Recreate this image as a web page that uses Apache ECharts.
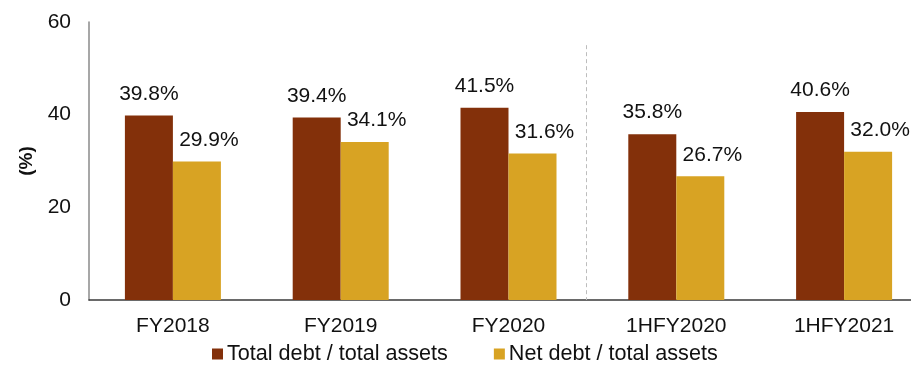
<!DOCTYPE html>
<html>
<head>
<meta charset="utf-8">
<script src="https://cdn.jsdelivr.net/npm/echarts@6/dist/echarts.min.js"></script>
<style>
  html, body { margin: 0; padding: 0; background: #fff; }
  #chart { width: 911px; height: 365px; }
</style>
</head>
<body>
<div id="chart"></div>
<script>
// Debt ratios by reporting period
const periods = ['FY2018', 'FY2019', 'FY2020', '1HFY2020', '1HFY2021'];
const totalDebtRatio = [39.8, 39.4, 41.5, 35.8, 40.6];
const netDebtRatio = [29.9, 34.1, 31.6, 26.7, 32.0];
const seriesNames = ['Total debt / total assets', 'Net debt / total assets'];
const yTicks = [0, 20, 40, 60];

const font = '"Liberation Sans", Arial, Helvetica, sans-serif';
const ink = '#111111';

const chart = echarts.init(document.getElementById('chart'), null, { renderer: 'canvas' });

const valueLabel = {
  show: true,
  position: 'top',
  distance: 11,
  fontFamily: font,
  fontSize: 21,
  color: ink,
  formatter: p => p.value.toFixed(1) + '%'
};

chart.setOption({
  animation: false,
  backgroundColor: '#ffffff',
  // plot runs slightly past the right edge of the canvas
  grid: {
    left: 89, top: 22, width: 839, bottom: 65,
    containLabel: false,
    outerBoundsMode: 'none'
  },
  legend: {
    left: 207,
    top: 341,
    padding: [0, 5, 0, 5],
    itemWidth: 11,
    itemHeight: 11,
    itemGap: 46,
    icon: 'rect',
    textStyle: { fontFamily: font, fontSize: 21.6, lineHeight: 26, color: ink, padding: [0, 0, 0, -1] },
    data: seriesNames
  },
  xAxis: {
    type: 'category',
    data: periods,
    axisLine: { lineStyle: { color: '#3a3a3a', width: 1.5 } },
    axisTick: { show: false },
    axisLabel: { fontFamily: font, fontSize: 21, color: ink, margin: 16 }
  },
  yAxis: {
    type: 'value',
    min: yTicks[0],
    max: yTicks[yTicks.length - 1],
    interval: yTicks[1] - yTicks[0],
    name: '(%)',
    nameLocation: 'middle',
    nameGap: 49,
    nameRotate: 90,
    nameTextStyle: { fontFamily: font, fontSize: 19, fontWeight: 'bold', color: ink },
    axisLine: { show: true, lineStyle: { color: '#8a8a8a', width: 1.5 } },
    axisTick: { show: false },
    splitLine: { show: false },
    axisLabel: { fontFamily: font, fontSize: 21, color: ink, margin: 18 }
  },
  series: [
    {
      name: seriesNames[0],
      type: 'bar',
      data: totalDebtRatio,
      barWidth: 48,
      barGap: '0%',
      itemStyle: { color: '#83300A' },
      label: valueLabel
    },
    {
      name: seriesNames[1],
      type: 'bar',
      data: netDebtRatio,
      barWidth: 48,
      barGap: '0%',
      itemStyle: { color: '#D8A323' },
      label: Object.assign({}, valueLabel, { offset: [12, 0] })
    }
  ]
});

// Dashed separator between full-year and half-year periods
const left = chart.convertToPixel({ xAxisIndex: 0 }, periods[2]);
const right = chart.convertToPixel({ xAxisIndex: 0 }, periods[3]);
const yTop = chart.convertToPixel({ yAxisIndex: 0 }, 55);
const yBase = chart.convertToPixel({ yAxisIndex: 0 }, 0);
const sepX = Math.round((left + right) / 2) - 6 + 0.5;
chart.setOption({
  graphic: [{
    type: 'line',
    shape: { x1: sepX, y1: yTop, x2: sepX, y2: yBase },
    style: { stroke: '#bdbdbd', lineWidth: 1, lineDash: [4, 3] },
    silent: true,
    z: 5
  }]
});
</script>
</body>
</html>
